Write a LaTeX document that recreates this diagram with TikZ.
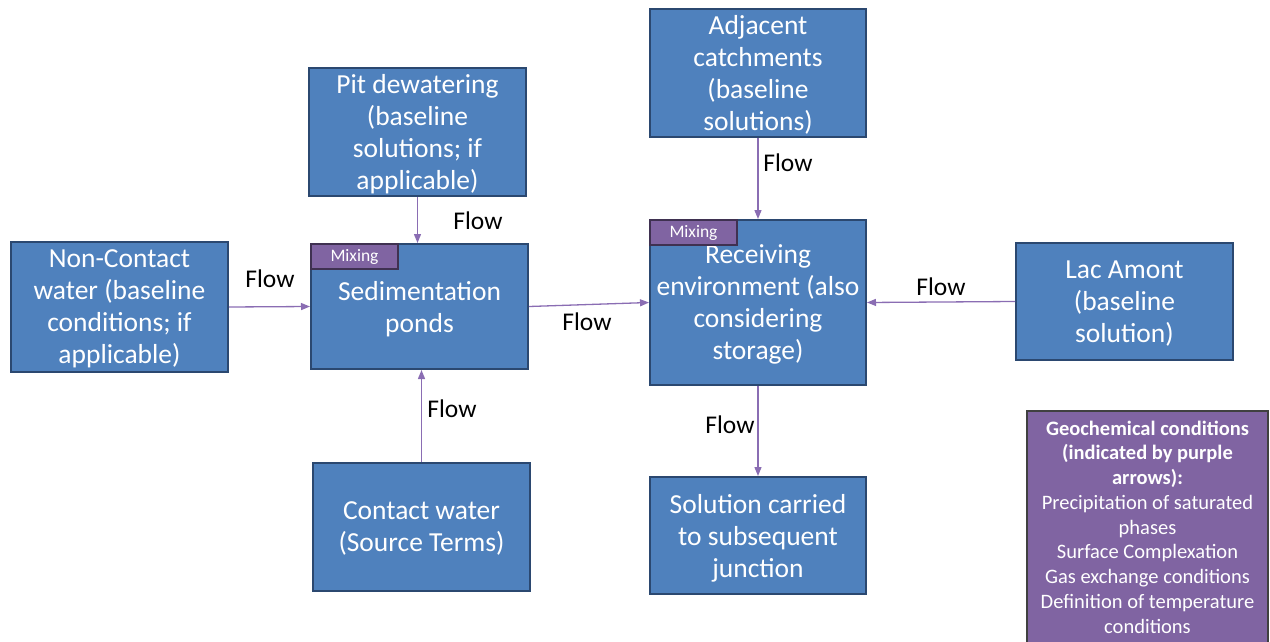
\documentclass[tikz,border=0pt]{standalone}
\usepackage{fontspec}
\setmainfont{Carlito}
\usepackage{tikz}
\usetikzlibrary{arrows.meta, positioning, calc}
\definecolor{boxblue}{HTML}{4F81BD}
\definecolor{boxedge}{HTML}{2B4870}
\definecolor{mixpurple}{HTML}{8064A2}
\definecolor{mixedge}{HTML}{3F3151}
\definecolor{arrowpurple}{HTML}{8A6DB3}

\begin{document}
\begin{tikzpicture}[x=1pt, y=-1pt,
  comp/.style={rectangle, draw=boxedge, fill=boxblue, line width=2pt,
               text=white, align=center, inner sep=2pt,
               font=\fontsize{27.5}{32}\selectfont, text depth=-3.5pt},
  mixtag/.style={rectangle, draw=mixedge, fill=mixpurple, line width=2pt,
                 text=white, minimum width=87pt, minimum height=25pt,
                 inner sep=0pt, font=\fontsize{17.5}{20}\selectfont},
  geo/.style={rectangle, draw=black!75, fill=mixpurple, line width=1.5pt,
              text=white, align=center, inner sep=2pt,
              font=\fontsize{20.5}{24.75}\selectfont},
  arr/.style={-{Triangle[length=9pt, width=7pt]}, line width=1.3pt, color=arrowpurple},
  flowlbl/.style={font=\fontsize{25.5}{28}\selectfont, text=black}
]
  \useasboundingbox (0,0) rectangle (1270,642);

  % boxes
  \node[comp, minimum width=217pt, minimum height=128pt] (pit)  at (417.5,132)  {Pit dewatering\\(baseline\\solutions; if\\applicable)};
  \node[comp, minimum width=216pt, minimum height=128pt] (adj)  at (758,73)     {Adjacent\\catchments\\(baseline\\solutions)};
  \node[comp, minimum width=217pt, minimum height=130pt] (nonc) at (119.5,307)  {Non-Contact\\water (baseline\\conditions; if\\applicable)};
  \node[comp, minimum width=217pt, minimum height=125pt] (sed)  at (419.5,306.5) {Sedimentation\\ponds};
  \node[comp, minimum width=216pt, minimum height=165pt] (rec)  at (758,302.5)  {Receiving\\environment (also\\considering\\storage)};
  \node[comp, minimum width=217pt, minimum height=117pt] (lac)  at (1124.5,301.5) {Lac Amont\\(baseline\\solution)};
  \node[comp, minimum width=217pt, minimum height=128pt] (cont) at (421.5,527)  {Contact water\\(Source Terms)};
  \node[comp, minimum width=216pt, minimum height=117pt] (sol)  at (758,535.5)  {Solution carried\\to subsequent\\junction};

  % mixing tags
  \node[mixtag, anchor=north west] (mixsed) at (sed.north west) {Mixing};
  \node[mixtag, anchor=north west] (mixrec) at (rec.north west) {Mixing};

  % legend
  \node[geo, minimum width=241pt, minimum height=232pt] (legend) at (1147.5,527)
    {\textbf{Geochemical conditions}\\\textbf{(indicated by purple}\\\textbf{arrows):}\\Precipitation of saturated\\phases\\Surface Complexation\\Gas exchange conditions\\Definition of temperature\\conditions};

  % flows
  \draw[arr] (pit.south) -- (pit.south |- sed.north);
  \draw[arr] (nonc.east) -- (sed.west);
  \draw[arr] (cont.north) -- (cont.north |- sed.south);
  \draw[arr] (sed.east) -- (rec.west);
  \draw[arr] (adj.south) -- (rec.north);
  \draw[arr] (lac.west) -- (rec.east);
  \draw[arr] (rec.south) -- (sol.north);

  \node[flowlbl] (fpit)  at (478,221) {Flow};
  \node[flowlbl] (fnonc) at (270,279) {Flow};
  \node[flowlbl] (fcont) at (452,409) {Flow};
  \node[flowlbl] (fsed)  at (587,322) {Flow};
  \node[flowlbl] (fadj)  at (788,163) {Flow};
  \node[flowlbl] (flac)  at (941,287) {Flow};
  \node[flowlbl] (frec)  at (730,425) {Flow};
\end{tikzpicture}
\end{document}
